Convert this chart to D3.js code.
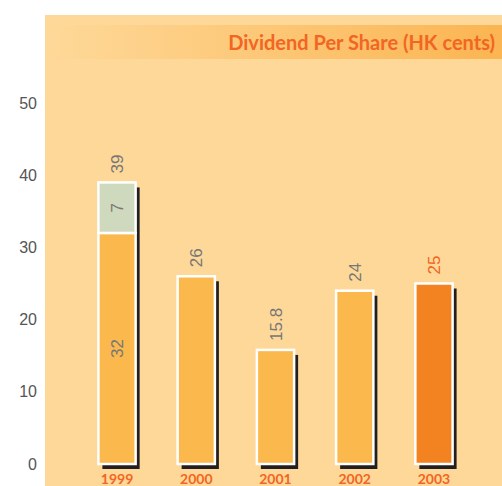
<!DOCTYPE html>
<html>
<head>
<meta charset="utf-8">
<script src="https://cdn.jsdelivr.net/npm/d3@7"></script>
<style>
  body { margin: 0; background: #fff; }
  svg { display: block; }
</style>
</head>
<body>
<svg id="chart" width="502" height="486"></svg>
<script>
const years = ["1999", "2000", "2001", "2002", "2003"];
const baseValues = [32, 26, 15.8, 24, 25];
const specialValues = [7, 0, 0, 0, 0];
const totalLabels = ["39", "26", "15.8", "24", "25"];
const yTicks = [0, 10, 20, 30, 40, 50];

const svg = d3.select("#chart");

// fondo del panel
svg.append("rect")
  .attr("x", 45).attr("y", 15)
  .attr("width", 457).attr("height", 471)
  .attr("fill", "#fed898");

// banda del titulo con degradado
const defs = svg.append("defs");
const grad = defs.append("linearGradient").attr("id", "tituloGrad");
grad.append("stop").attr("offset", "0%").attr("stop-color", "#fed898");
grad.append("stop").attr("offset", "100%").attr("stop-color", "#fbb552");

svg.append("rect")
  .attr("x", 50).attr("y", 25)
  .attr("width", 452).attr("height", 34)
  .attr("fill", "url(#tituloGrad)");

svg.append("text")
  .attr("x", 495).attr("y", 50)
  .attr("text-anchor", "end")
  .attr("font-family", "Lato, 'Open Sans', sans-serif")
  .attr("font-weight", "bold")
  .attr("font-size", 20)
  .attr("fill", "#f26522")
  .text("Dividend Per Share (HK cents)");

const x = d3.scaleBand()
  .domain(years)
  .range([77, 474])
  .paddingInner(0.53)
  .paddingOuter(0.27);

const y = d3.scaleLinear().domain([0, 50]).range([464, 103]);

// eje Y
const yAxis = svg.append("g")
  .attr("transform", "translate(40,0)")
  .call(d3.axisLeft(y).tickValues(yTicks).tickSize(0).tickPadding(3));
yAxis.select(".domain").remove();
yAxis.selectAll("text")
  .attr("font-family", "'Liberation Sans Narrow', 'Liberation Sans', sans-serif")
  .attr("font-size", 16)
  .attr("fill", "#555");

const data = years.map((yr, i) => ({
  year: yr, base: baseValues[i], extra: specialValues[i], label: totalLabels[i], i
}));

const bars = svg.append("g").selectAll("g").data(data).enter().append("g");

// sombras
bars.append("rect")
  .attr("x", d => x(d.year) + 4)
  .attr("y", d => y(d.base + d.extra) + 5)
  .attr("width", x.bandwidth())
  .attr("height", d => y(0) - y(d.base + d.extra))
  .attr("fill", "#231f20");

// tramo base
bars.append("rect")
  .attr("x", d => x(d.year))
  .attr("y", d => y(d.base))
  .attr("width", x.bandwidth())
  .attr("height", d => y(0) - y(d.base))
  .attr("fill", d => d.year === "2003" ? "#f38321" : "#fbb84c")
  .attr("stroke", "#fff")
  .attr("stroke-width", 2.5);

// tramo especial
bars.filter(d => d.extra > 0).append("rect")
  .attr("x", d => x(d.year))
  .attr("y", d => y(d.base + d.extra))
  .attr("width", x.bandwidth())
  .attr("height", d => y(d.base) - y(d.base + d.extra))
  .attr("fill", "#cfd9bd")
  .attr("stroke", "#fff")
  .attr("stroke-width", 2.5);

const labelFont = "'Liberation Sans Narrow', 'Liberation Sans', sans-serif";

// etiquetas de total
bars.append("text")
  .attr("transform", d => `translate(${x(d.year) + x.bandwidth() / 2 + 6},${y(d.base + d.extra) - 9}) rotate(-90)`)
  .attr("font-family", labelFont)
  .attr("font-size", 17)
  .attr("fill", d => d.year === "2003" ? "#f26522" : "#777")
  .text(d => d.label);

// etiquetas internas del 1999
bars.filter(d => d.extra > 0).append("text")
  .attr("transform", d => `translate(${x(d.year) + x.bandwidth() / 2 + 6},${(y(d.base) + y(d.base + d.extra)) / 2}) rotate(-90)`)
  .attr("text-anchor", "middle")
  .attr("font-family", labelFont)
  .attr("font-size", 17)
  .attr("fill", "#777")
  .text(d => d.extra);

bars.filter(d => d.extra > 0).append("text")
  .attr("transform", d => `translate(${x(d.year) + x.bandwidth() / 2 + 6},${(y(0) + y(d.base)) / 2}) rotate(-90)`)
  .attr("text-anchor", "middle")
  .attr("font-family", labelFont)
  .attr("font-size", 17)
  .attr("fill", "#777")
  .text(d => d.base);

// etiquetas de año
bars.append("text")
  .attr("x", d => x(d.year) + x.bandwidth() / 2)
  .attr("y", 484)
  .attr("text-anchor", "middle")
  .attr("font-family", "Lato, 'Open Sans', sans-serif")
  .attr("font-weight", "bold")
  .attr("font-size", 14)
  .attr("fill", "#f26522")
  .text(d => d.year);
</script>
</body>
</html>
